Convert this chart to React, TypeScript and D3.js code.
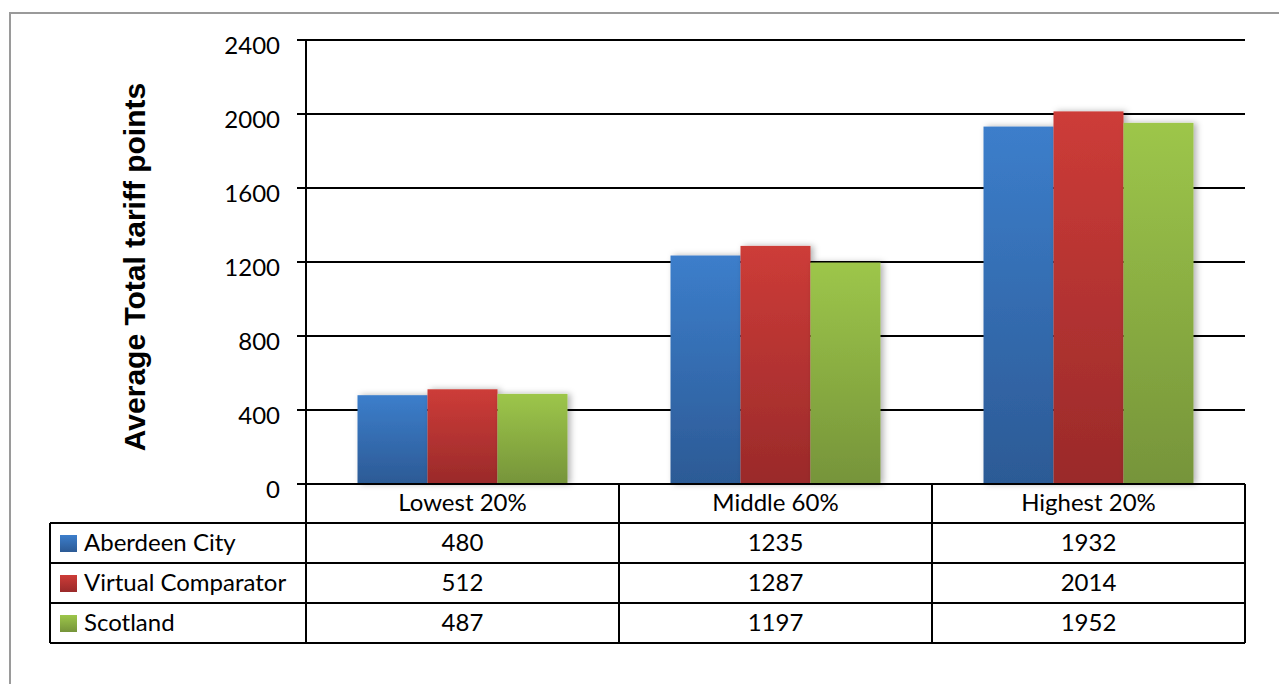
import React from "react";
import * as d3 from "d3";

const categories = ["Lowest 20%", "Middle 60%", "Highest 20%"];
const seriesNames = ["Aberdeen City", "Virtual Comparator", "Scotland"];
const aberdeenCity = [480, 1235, 1932];
const virtualComparator = [512, 1287, 2014];
const scotland = [487, 1197, 1952];
const yTicks = [0, 400, 800, 1200, 1600, 2000, 2400];

const seriesValues = [aberdeenCity, virtualComparator, scotland];
const gradients = [
  { id: "g-blue", top: "#3c7ecb", bottom: "#2c5a95" },
  { id: "g-red", top: "#cd3c38", bottom: "#9a2a2a" },
  { id: "g-green", top: "#9dc64a", bottom: "#76943a" },
];

const W = 1279;
const H = 684;
const plotLeft = 306;
const plotRight = 1245;
const plotTop = 40;
const plotBottom = 484;
const tableLeft = 50;
const rowH = 40;

const labelFont = "Lato, 'Open Sans', sans-serif";
const labelSize = 24;

export default function App() {
  const y = d3.scaleLinear().domain([0, 2400]).range([plotBottom, plotTop]);
  const x = d3.scaleBand<string>().domain(categories).range([plotLeft, plotRight]).padding(0);
  const xs = d3
    .scaleBand<string>()
    .domain(seriesNames)
    .range([0, x.bandwidth()])
    .paddingInner(0)
    .paddingOuter(0.736);

  const headerBottom = plotBottom + 39;
  const rowTops = seriesNames.map((_, i) => headerBottom + i * rowH);
  const tableBottom = headerBottom + seriesNames.length * rowH;
  const colEdges = [plotLeft, ...categories.map((c) => (x(c) as number) + x.bandwidth())];

  return (
    <div style={{ position: "fixed", left: 0, top: 0, width: W, height: H, background: "#fff" }}>
      <svg width={W} height={H} style={{ display: "block" }}>
        <defs>
          {gradients.map((g) => (
            <linearGradient key={g.id} id={g.id} x1="0" y1="0" x2="0" y2="1">
              <stop offset="0%" stopColor={g.top} />
              <stop offset="100%" stopColor={g.bottom} />
            </linearGradient>
          ))}
          <filter id="bar-shadow" x="-20%" y="-10%" width="150%" height="120%">
            <feDropShadow dx="3" dy="0" stdDeviation="3" floodColor="#000" floodOpacity="0.3" />
          </filter>
        </defs>

        {/* outer chart frame */}
        <rect x={10} y={13} width={W + 20} height={H + 20} fill="none" stroke="#9a9a9a" strokeWidth={2} />

        {/* gridlines and y ticks */}
        {yTicks.map((t) => (
          <g key={t}>
            <line x1={plotLeft - 9} x2={t === 0 ? plotLeft : plotRight} y1={y(t)} y2={y(t)} stroke="#000" strokeWidth={2} />
            <text
              x={280}
              y={y(t) + 5}
              dy="0.36em"
              textAnchor="end"
              fontFamily={labelFont}
              fontSize={labelSize}
              fill="#000"
            >
              {t}
            </text>
          </g>
        ))}

        {/* bars */}
        {categories.map((c, ci) => (
          <g key={c} transform={`translate(${x(c)},0)`}>
            {seriesNames.map((s, si) => {
              const v = seriesValues[si][ci];
              return (
                <rect
                  key={s}
                  x={xs(s)}
                  y={y(v)}
                  width={xs.bandwidth()}
                  height={y(0) - y(v)}
                  fill={`url(#${gradients[si].id})`}
                  filter="url(#bar-shadow)"
                />
              );
            })}
          </g>
        ))}

        {/* data table */}
        <g stroke="#000" strokeWidth={2} fill="none">
          <line x1={plotLeft} x2={plotRight} y1={plotBottom} y2={plotBottom} />
          {[...rowTops, tableBottom].map((ry, i) => (
            <line key={i} x1={tableLeft} x2={plotRight} y1={ry} y2={ry} />
          ))}
          <line x1={tableLeft} x2={tableLeft} y1={headerBottom} y2={tableBottom} />
          <line x1={plotLeft} x2={plotLeft} y1={plotTop} y2={tableBottom} />
          {colEdges.slice(1).map((cx, i) => (
            <line key={i} x1={cx} x2={cx} y1={plotBottom} y2={tableBottom} />
          ))}
        </g>

        {categories.map((c) => (
          <text
            key={c}
            x={(x(c) as number) + x.bandwidth() / 2}
            y={(plotBottom + headerBottom) / 2 - 1}
            dy="0.36em"
            textAnchor="middle"
            fontFamily={labelFont}
            fontSize={labelSize}
            fill="#000"
          >
            {c}
          </text>
        ))}

        {seriesNames.map((s, si) => (
          <g key={s}>
            <rect x={60} y={rowTops[si] + 12} width={17} height={17} fill={`url(#${gradients[si].id})`} />
            <text
              x={84}
              y={rowTops[si] + rowH / 2 - 1}
              dy="0.36em"
              fontFamily={labelFont}
              fontSize={labelSize}
              fill="#000"
            >
              {s}
            </text>
            {categories.map((c, ci) => (
              <text
                key={c}
                x={(x(c) as number) + x.bandwidth() / 2}
                y={rowTops[si] + rowH / 2 - 1}
                dy="0.36em"
                textAnchor="middle"
                fontFamily={labelFont}
                fontSize={labelSize}
                fill="#000"
              >
                {seriesValues[si][ci]}
              </text>
            ))}
          </g>
        ))}

        {/* y axis title */}
        <text
          transform={`translate(145,267) rotate(-90)`}
          textAnchor="middle"
          fontFamily="'Liberation Sans', Arial, sans-serif"
          fontWeight="bold"
          fontSize={30}
          fill="#000"
        >
          Average Total tariff points
        </text>
      </svg>
    </div>
  );
}
